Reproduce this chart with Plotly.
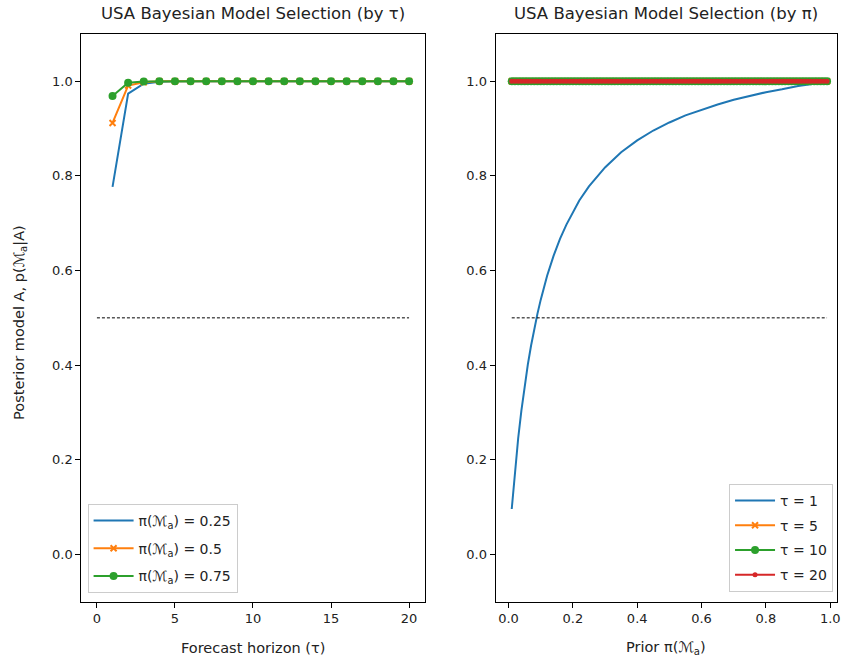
import numpy as np
import plotly.graph_objects as go

# ---------------- data ----------------
horizon = list(range(1, 21))
post_pi025 = [0.777, 0.974, 0.995, 0.999, 1.0, 1.0, 1.0, 1.0, 1.0, 1.0,
              1.0, 1.0, 1.0, 1.0, 1.0, 1.0, 1.0, 1.0, 1.0, 1.0]
post_pi050 = [0.912, 0.991, 0.998, 1.0, 1.0, 1.0, 1.0, 1.0, 1.0, 1.0,
              1.0, 1.0, 1.0, 1.0, 1.0, 1.0, 1.0, 1.0, 1.0, 1.0]
post_pi075 = [0.969, 0.997, 0.9995, 1.0, 1.0, 1.0, 1.0, 1.0, 1.0, 1.0,
              1.0, 1.0, 1.0, 1.0, 1.0, 1.0, 1.0, 1.0, 1.0, 1.0]

# prior grid for the marked series (0.01 ... 0.99)
prior_grid = np.round(np.arange(0.01, 1.0, 0.01), 2)
post_tau5 = [1.0] * len(prior_grid)
post_tau10 = [1.0] * len(prior_grid)
post_tau20 = [1.0] * len(prior_grid)

# tau = 1 curve
prior_tau1 = [0.01, 0.02, 0.03, 0.04, 0.05, 0.06, 0.07, 0.08, 0.09, 0.10,
              0.12, 0.14, 0.16, 0.18, 0.20, 0.22, 0.25, 0.28, 0.30, 0.35,
              0.40, 0.45, 0.50, 0.55, 0.60, 0.65, 0.70, 0.75, 0.80, 0.85,
              0.90, 0.95, 0.99]
post_tau1 = [0.096, 0.177, 0.245, 0.304, 0.356, 0.401, 0.441, 0.477, 0.509, 0.538,
             0.589, 0.631, 0.667, 0.697, 0.724, 0.748, 0.778, 0.803, 0.818, 0.850,
             0.875, 0.896, 0.913, 0.928, 0.940, 0.951, 0.961, 0.969, 0.977, 0.983,
             0.990, 0.995, 0.999]

threshold = 0.5
yticks = [0.0, 0.2, 0.4, 0.6, 0.8, 1.0]
xticks_left = [0, 5, 10, 15, 20]
xticks_right = [0.0, 0.2, 0.4, 0.6, 0.8, 1.0]

BLUE, ORANGE, GREEN, RED = "#1f77b4", "#ff7f0e", "#2ca02c", "#d62728"
M = "ℳ<sub>a</sub>"
TXT = "#222222"

fig = go.Figure()

# ---- left panel ----
fig.add_trace(go.Scatter(x=horizon, y=post_pi025, mode="lines",
                         line=dict(color=BLUE, width=2), legendgroup="a1",
                         name=f"π({M}) = 0.25", xaxis="x", yaxis="y", legend="legend"))
fig.add_trace(go.Scatter(x=horizon, y=post_pi050, mode="lines+markers",
                         line=dict(color=ORANGE, width=2), legendgroup="a2",
                         marker=dict(symbol="x-thin", size=6, color=ORANGE,
                                     line=dict(color=ORANGE, width=2)),
                         name=f"π({M}) = 0.5", xaxis="x", yaxis="y", legend="legend"))
fig.add_trace(go.Scatter(x=horizon, y=post_pi075, mode="lines+markers",
                         line=dict(color=GREEN, width=2), legendgroup="a3",
                         marker=dict(symbol="circle", size=8, color=GREEN),
                         name=f"π({M}) = 0.75", xaxis="x", yaxis="y", legend="legend"))
fig.add_trace(go.Scatter(x=[0, 20], y=[threshold, threshold], mode="lines",
                         line=dict(color="black", width=1, dash="3px,2px"),
                         showlegend=False, hoverinfo="skip", xaxis="x", yaxis="y"))

# ---- right panel ----
fig.add_trace(go.Scatter(x=prior_tau1, y=post_tau1, mode="lines",
                         line=dict(color=BLUE, width=2), legendgroup="b1",
                         name="τ = 1", xaxis="x2", yaxis="y2", legend="legend2"))
fig.add_trace(go.Scatter(x=prior_grid, y=post_tau5, mode="lines+markers",
                         line=dict(color=ORANGE, width=2), legendgroup="b2",
                         marker=dict(symbol="x-thin", size=6, color=ORANGE,
                                     line=dict(color=ORANGE, width=2)),
                         name="τ = 5", xaxis="x2", yaxis="y2", legend="legend2"))
fig.add_trace(go.Scatter(x=prior_grid, y=post_tau10, mode="lines+markers",
                         line=dict(color=GREEN, width=2), legendgroup="b3",
                         marker=dict(symbol="circle", size=8, color=GREEN),
                         name="τ = 10", xaxis="x2", yaxis="y2", legend="legend2"))
fig.add_trace(go.Scatter(x=prior_grid, y=post_tau20, mode="lines+markers",
                         line=dict(color=RED, width=2), legendgroup="b4",
                         marker=dict(symbol="circle", size=5, color=RED),
                         name="τ = 20", xaxis="x2", yaxis="y2", legend="legend2"))
fig.add_trace(go.Scatter(x=[0.01, 0.99], y=[threshold, threshold], mode="lines",
                         line=dict(color="black", width=1, dash="3px,2px"),
                         showlegend=False, hoverinfo="skip", xaxis="x2", yaxis="y2"))

W, H = 845, 662
axis_common = dict(showline=True, linecolor="black", linewidth=1, mirror=True,
                   ticks="outside", ticklen=5, tickwidth=1, tickcolor="black",
                   showgrid=False, zeroline=False, ticklabeloverflow="allow",
                   tickfont=dict(family="DejaVu Sans", size=13, color=TXT))

fig.update_layout(
    width=W, height=H,
    margin=dict(l=0, r=0, t=0, b=0),
    paper_bgcolor="white", plot_bgcolor="white",
    font=dict(family="DejaVu Sans", size=14, color="black"),
    xaxis=dict(domain=[81.7 / W, 426.7 / W], range=[-1, 21], tickvals=xticks_left,
               anchor="y", **axis_common),
    yaxis=dict(domain=[1 - 601.7 / H, 1 - 34 / H], range=[-0.1, 1.1], tickvals=yticks,
               tickformat=".1f", anchor="x", **axis_common),
    xaxis2=dict(domain=[498 / W, 841 / W], range=[-0.04, 1.021], tickvals=xticks_right,
                tickformat=".1f", anchor="y2", **axis_common),
    yaxis2=dict(domain=[1 - 601.7 / H, 1 - 34 / H], range=[-0.1, 1.1], tickvals=yticks,
                tickformat=".1f", anchor="x2", **axis_common),
    legend=dict(x=88 / W, y=1 - 593 / H, xanchor="left", yanchor="bottom",
                bgcolor="white", bordercolor="#cccccc", borderwidth=1, itemwidth=40,
                font=dict(size=14, color=TXT), tracegroupgap=6.5),
    legend2=dict(x=837 / W, y=1 - 592 / H, xanchor="right", yanchor="bottom",
                 bgcolor="white", bordercolor="#cccccc", borderwidth=1, itemwidth=40,
                 font=dict(size=14, color=TXT), tracegroupgap=3.5),
    annotations=[
        dict(text="USA Bayesian Model Selection (by τ)", x=254 / W, y=1 - 13 / H,
             xref="paper", yref="paper", xanchor="center", yanchor="middle",
             showarrow=False, font=dict(size=16.5, color=TXT)),
        dict(text="USA Bayesian Model Selection (by π)", x=669.5 / W, y=1 - 13 / H,
             xref="paper", yref="paper", xanchor="center", yanchor="middle",
             showarrow=False, font=dict(size=16.5, color=TXT)),
        dict(text="Forecast horizon (τ)", x=254 / W, y=1 - 648 / H,
             xref="paper", yref="paper", xanchor="center", yanchor="middle",
             showarrow=False, font=dict(size=14.5, color=TXT)),
        dict(text=f"Prior π({M})", x=669.5 / W, y=1 - 648 / H,
             xref="paper", yref="paper", xanchor="center", yanchor="middle",
             showarrow=False, font=dict(size=14.5, color=TXT)),
        dict(text=f"Posterior model A, p({M}|A)", x=20 / W, y=1 - 322 / H,
             xref="paper", yref="paper", xanchor="center", yanchor="middle",
             textangle=-90, showarrow=False, font=dict(size=14.5, color=TXT)),
    ],
)

fig.write_html("out.html", config={"displayModeBar": False},
               post_script="document.body.style.margin='0px';"
                           "document.documentElement.style.overflow='hidden';"
                           "document.body.style.overflow='hidden';")
